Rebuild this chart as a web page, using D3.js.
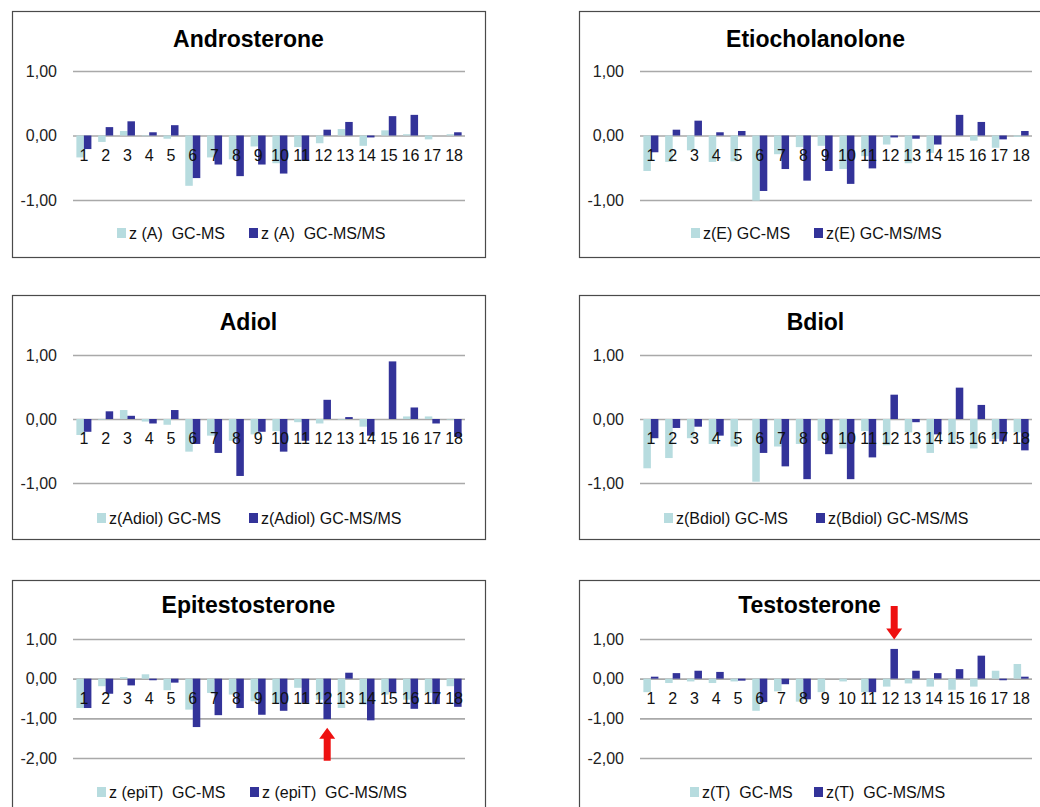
<!DOCTYPE html>
<html>
<head>
<meta charset="utf-8">
<style>
    body { margin: 0; background: #fff; }
    text { font-family: Arial, "Liberation Sans", sans-serif; }
</style>
</head>
<body>
    <svg id="chart"></svg>

<script src="https://cdn.jsdelivr.net/npm/d3@7"></script>
<script>
    "use strict"

    // ---- data ----
    const categories = ["1", "2", "3", "4", "5", "6", "7", "8", "9", "10", "11", "12", "13", "14", "15", "16", "17", "18"];

    const titles = ["Androsterone", "Etiocholanolone", "Adiol", "Bdiol", "Epitestosterone", "Testosterone"];

    const legendLabels = [
        ["z (A)  GC-MS", "z (A)  GC-MS/MS"],
        ["z(E) GC-MS", "z(E) GC-MS/MS"],
        ["z(Adiol) GC-MS", "z(Adiol) GC-MS/MS"],
        ["z(Bdiol) GC-MS", "z(Bdiol) GC-MS/MS"],
        ["z (epiT)  GC-MS", "z (epiT)  GC-MS/MS"],
        ["z(T)  GC-MS", "z(T)  GC-MS/MS"]
    ];

    const androGcms   = [-0.34, -0.10, 0.07, -0.01, -0.05, -0.78, -0.34, -0.37, -0.17, -0.43, -0.18, -0.12, 0.10, -0.16, 0.08, 0.02, -0.06, 0.02];
    const androGcmsms = [-0.21, 0.13, 0.22, 0.05, 0.16, -0.66, -0.45, -0.63, -0.45, -0.59, -0.39, 0.09, 0.21, -0.03, 0.30, 0.32, 0.00, 0.05];

    const etioGcms   = [-0.55, -0.41, -0.23, -0.41, -0.40, -1.01, -0.29, -0.18, -0.16, -0.52, -0.32, -0.14, -0.43, -0.27, 0.00, -0.08, -0.19, -0.02];
    const etioGcmsms = [-0.26, 0.09, 0.23, 0.05, 0.07, -0.86, -0.52, -0.70, -0.55, -0.75, -0.51, -0.03, -0.05, -0.14, 0.32, 0.21, -0.06, 0.07];

    const adiolGcms   = [-0.25, -0.01, 0.14, -0.04, -0.09, -0.51, -0.26, -0.34, -0.24, -0.19, -0.05, -0.07, -0.01, -0.12, 0.00, 0.04, 0.04, -0.01];
    const adiolGcmsms = [-0.20, 0.12, 0.05, -0.07, 0.14, -0.39, -0.53, -0.89, -0.20, -0.51, -0.34, 0.30, 0.03, -0.26, 0.90, 0.18, -0.07, -0.28];

    const bdiolGcms   = [-0.77, -0.61, -0.30, -0.39, -0.43, -0.98, -0.43, -0.39, -0.34, -0.46, -0.19, -0.41, -0.21, -0.53, -0.38, -0.46, -0.31, -0.21];
    const bdiolGcmsms = [-0.30, -0.14, -0.12, -0.26, 0.00, -0.53, -0.74, -0.94, -0.55, -0.94, -0.60, 0.38, -0.05, -0.24, 0.49, 0.22, -0.35, -0.49];

    const epiTGcms   = [-0.74, -0.19, 0.04, 0.11, -0.29, -0.78, -0.36, -0.40, -0.57, -0.61, -0.23, -0.53, -0.74, -0.65, -0.40, -0.53, -0.36, -0.19];
    const epiTGcmsms = [-0.74, -0.38, -0.17, -0.04, -0.10, -1.22, -0.92, -0.74, -0.91, -0.81, -0.61, -1.02, 0.15, -1.05, -0.34, -0.76, -0.64, -0.71];

    const testoGcms   = [-0.34, -0.11, -0.07, -0.11, -0.07, -0.81, -0.32, -0.58, -0.34, -0.07, -0.34, -0.20, -0.12, -0.20, -0.28, -0.20, 0.20, 0.37];
    const testoGcmsms = [0.05, 0.14, 0.20, 0.17, -0.05, -0.59, -0.14, -0.52, 0.00, 0.00, -0.34, 0.75, 0.20, 0.14, 0.24, 0.58, -0.04, 0.05];

    const domainSmall = [-1, 1];
    const domainLarge = [-2, 1];
    const ticksSmall = [1, 0, -1];
    const ticksLarge = [1, 0, -1, -2];

    // ---- layout ----
    const width = 1040;
    const height = 807;
    const boxWidth = 473;
    const colLeft = [12, 579];
    const rows = [
        { top: 11,  title: 39,  plotTop: 71,  plotBottom: 200, legend: 233, h: 246 },
        { top: 295, title: 322, plotTop: 355, plotBottom: 483, legend: 518, h: 244 },
        { top: 580, title: 605, plotTop: 639, plotBottom: 758, legend: 792, h: 260 }
    ];
    const colors = { gc: "#b7dcdf", ms: "#333399" };
    const fontFamily = "Arial, 'Liberation Sans', sans-serif";

    const panels = [
        { title: titles[0], gc: androGcms, ms: androGcmsms, legend: legendLabels[0], row: 0, col: 0, domain: domainSmall, ticks: ticksSmall, leg: [105, 237] },
        { title: titles[1], gc: etioGcms,  ms: etioGcmsms,  legend: legendLabels[1], row: 0, col: 1, domain: domainSmall, ticks: ticksSmall, leg: [112, 235] },
        { title: titles[2], gc: adiolGcms, ms: adiolGcmsms, legend: legendLabels[2], row: 1, col: 0, domain: domainSmall, ticks: ticksSmall, leg: [85, 237] },
        { title: titles[3], gc: bdiolGcms, ms: bdiolGcmsms, legend: legendLabels[3], row: 1, col: 1, domain: domainSmall, ticks: ticksSmall, leg: [85, 237] },
        { title: titles[4], gc: epiTGcms,  ms: epiTGcmsms,  legend: legendLabels[4], row: 2, col: 0, domain: domainLarge, ticks: ticksLarge, leg: [85, 238],
          arrow: { cat: "12", tip: -1.24, tail: -2.07 } },
        { title: titles[5], gc: testoGcms, ms: testoGcmsms, legend: legendLabels[5], row: 2, col: 1, domain: domainLarge, ticks: ticksLarge, leg: [111, 235],
          arrow: { cat: "12", tip: 0.99, tail: 1.83 }, titleDx: -6 }
    ];

    const fmt = d3.formatLocale({ decimal: ",", thousands: ".", grouping: [3], currency: ["", ""], minus: "-" }).format(".2f");

    const svg = d3.select("#chart")
        .attr("width", width)
        .attr("height", height);

    svg.append("rect").attr("width", width).attr("height", height).attr("fill", "#fff");

    panels.forEach(drawPanel);

    function drawPanel(p) {
        const r = rows[p.row];
        const left = colLeft[p.col];
        const plotLeft = left + 61;
        const plotRight = left + 453;
        const g = svg.append("g");

        g.append("rect")
            .attr("x", left + 0.5)
            .attr("y", r.top + 0.5)
            .attr("width", boxWidth)
            .attr("height", r.h)
            .attr("fill", "#fff")
            .attr("stroke", "#4a4a4a")
            .attr("stroke-width", 1.2);

        g.append("text")
            .attr("x", left + boxWidth / 2 + (p.titleDx || 0))
            .attr("y", r.title)
            .attr("dy", "0.36em")
            .attr("text-anchor", "middle")
            .attr("font-size", 23)
            .attr("font-weight", "bold")
            .attr("fill", "#000")
            .text(p.title);

        const x = d3.scaleBand()
            .domain(categories)
            .range([plotLeft, plotRight])
            .paddingInner(0.31)
            .paddingOuter(0.155);

        const xs = d3.scaleBand()
            .domain(["gc", "ms"])
            .range([0, x.bandwidth()]);

        const y = d3.scaleLinear()
            .domain(p.domain)
            .range([r.plotBottom, r.plotTop]);

        // value axis with gridlines
        g.append("g")
            .attr("transform", `translate(${plotLeft},0)`)
            .call(d3.axisLeft(y).tickValues(p.ticks).tickFormat(fmt).tickSize(-(plotRight - plotLeft)).tickPadding(16))
            .call(a => a.select(".domain").remove())
            .call(a => a.selectAll("line").attr("stroke", "#a9a9a9").attr("stroke-width", 1.6))
            .call(a => a.selectAll("text").attr("font-size", 16).attr("fill", "#222").style("font-family", fontFamily));

        // bars
        ["gc", "ms"].forEach(key => {
            g.append("g").selectAll("rect")
                .data(p[key])
                .join("rect")
                .attr("x", (d, i) => x(categories[i]) + xs(key))
                .attr("y", d => y(Math.max(0, d)))
                .attr("width", xs.bandwidth())
                .attr("height", d => Math.abs(y(d) - y(0)))
                .attr("fill", colors[key]);
        });

        // category labels, hanging just under the zero line
        g.append("g")
            .attr("transform", `translate(0,${y(0)})`)
            .call(d3.axisBottom(x).tickSize(0).tickPadding(14))
            .call(a => a.select(".domain").remove())
            .call(a => a.selectAll("text").attr("font-size", 16).attr("fill", "#111").style("font-family", fontFamily));

        // legend
        ["gc", "ms"].forEach((key, i) => {
            const lx = left + p.leg[i];
            g.append("rect")
                .attr("x", lx)
                .attr("y", r.legend - 5)
                .attr("width", 9)
                .attr("height", 10)
                .attr("fill", colors[key]);
            g.append("text")
                .attr("x", lx + 12)
                .attr("y", r.legend)
                .attr("dy", "0.36em")
                .attr("font-size", 16)
                .attr("fill", "#111")
                .style("white-space", "pre")
                .text(p.legend[i]);
        });

        // red arrow annotation
        if (p.arrow) {
            const cx = x(p.arrow.cat) + xs("ms") + xs.bandwidth() / 2;
            const tip = y(p.arrow.tip);
            const tail = y(p.arrow.tail);
            const s = tail > tip ? 1 : -1;
            const headW = 16, headH = 11, shaftW = 7;
            const pts = [
                [cx, tip],
                [cx + headW / 2, tip + s * headH],
                [cx + shaftW / 2, tip + s * headH],
                [cx + shaftW / 2, tail],
                [cx - shaftW / 2, tail],
                [cx - shaftW / 2, tip + s * headH],
                [cx - headW / 2, tip + s * headH]
            ];
            g.append("polygon")
                .attr("points", pts.map(d => d.join(",")).join(" "))
                .attr("fill", "#ee1111");
        }
    }
</script>
</body>
</html>
